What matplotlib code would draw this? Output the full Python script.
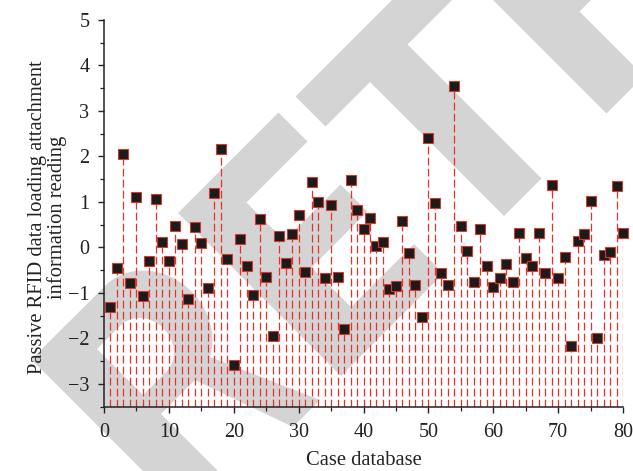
import numpy as np
import matplotlib
matplotlib.use("Agg")
import matplotlib.pyplot as plt
from matplotlib.patches import Polygon

# ---- data ----
case_ids = list(range(1, 81))
readings = [-1.31, -0.46, 2.05, -0.78, 1.12, -1.07, -0.29, 1.07, 0.11, -0.30,
            0.47, 0.07, -1.13, 0.44, 0.10, -0.89, 1.20, 2.16, -0.26, -2.59,
            0.19, -0.40, -1.05, 0.63, -0.65, -1.94, 0.25, -0.34, 0.30, 0.71,
            -0.53, 1.44, 1.00, -0.68, 0.93, -0.66, -1.80, 1.49, 0.82, 0.41,
            0.65, 0.04, 0.12, -0.92, -0.85, 0.58, -0.13, -0.82, -1.52, 2.41,
            0.97, -0.56, -0.82, 3.55, 0.48, -0.07, -0.75, 0.40, -0.40, -0.87,
            -0.68, -0.37, -0.76, 0.32, -0.23, -0.40, 0.32, -0.56, 1.38, -0.67,
            -0.20, -2.17, 0.15, 0.30, 1.03, -2.00, -0.16, -0.09, 1.35, 0.32]
x_ticks = [0, 10, 20, 30, 40, 50, 60, 70, 80]
y_ticks = [-3, -2, -1, 0, 1, 2, 3, 4, 5]
x_label = "Case database"
y_label = "Passive RFID data loading attachment\ninformation reading"

plt.rcParams['font.family'] = ['Liberation Serif', 'DejaVu Serif']

W, H = 633, 471
fig = plt.figure(figsize=(W / 100, H / 100), dpi=100)

# ---- watermark layer (pixel coordinates) ----
wm = fig.add_axes([0, 0, 1, 1], zorder=0)
wm.set_xlim(0, W)
wm.set_ylim(H, 0)
wm.axis('off')
GRAY = '#d4d4d4'


def pq(points):
    return [((p + q) / 2.0, (q - p) / 2.0) for p, q in points]


def add_poly(points, color=GRAY):
    wm.add_patch(Polygon(pq(points), closed=True, facecolor=color,
                         edgecolor='none'))


# E
add_poly([(-35, 391), (166, 391), (166, 449), (44, 449), (44, 525), (156, 525),
          (156, 579), (44, 579), (44, 658), (170, 658), (170, 717), (-35, 717)])
# T
add_poly([(199, 392), (452, 392), (452, 452), (363, 452), (363, 720),
          (288, 720), (288, 452), (199, 452)])
# R (top right)
add_poly([(493, 391), (800, 391), (800, 591), (568, 591), (568, 720), (493, 720)])


# R (bottom left): spine + bowl + hole + leg
def d_shape(p0, pstraight, rp, q0, q1, n=60):
    qc = (q0 + q1) / 2.0
    rq = (q1 - q0) / 2.0
    pts = [(p0, q0)]
    for t in np.linspace(-np.pi / 2, np.pi / 2, n):
        pts.append((pstraight + rp * np.cos(t), qc + rq * np.sin(t)))
    pts.append((p0, q1))
    return pts


add_poly([(-328, 391), (-253, 391), (-253, 820), (-328, 820)])
add_poly(d_shape(-300, -180, 80, 391, 575))
add_poly(d_shape(-252, -205, 40, 446, 538), color='white')
add_poly([(-150, 560), (-80, 720), (-134, 720), (-185, 575)])

# ---- main axes ----
ax = fig.add_axes([104 / W, 1 - 406.7 / H, (623 - 104) / W, (406.7 - 20) / H],
                  zorder=1)
ax.set_facecolor('none')

ax.vlines(case_ids, -3.5, readings, colors='#e8302a', linewidth=0.9,
          linestyles=(0, (6.2, 2.6)), zorder=2)
ax.plot(case_ids, readings, linestyle='none', marker='s', markersize=6.5,
        markerfacecolor='#1b1b1b', markeredgecolor='#d23a30',
        markeredgewidth=0.8, zorder=3, clip_on=False)

ax.set_xlim(0, 80)
ax.set_ylim(-3.5, 5)
ax.set_xticks(x_ticks)
ax.set_yticks(y_ticks)
ax.set_xticks(np.arange(5, 80, 10), minor=True)
ax.set_yticks(np.arange(-3.5, 5.0, 1.0), minor=True)
ax.set_yticklabels(['\u2212' + str(abs(v)) if v < 0 else str(v) for v in y_ticks])
for s in ['top', 'right']:
    ax.spines[s].set_visible(False)
for s in ['left', 'bottom']:
    ax.spines[s].set_linewidth(1.1)
    ax.spines[s].set_color('#222222')
ax.tick_params(which='major', direction='out', length=4.5, width=1.0,
               labelsize=14.5, colors='#222222')
ax.tick_params(axis='x', which='major', pad=7.5)
ax.tick_params(axis='y', which='major', pad=6)
ax.tick_params(which='minor', direction='out', length=3, width=0.9,
               colors='#222222')
ax.set_xlabel(x_label, fontsize=14.8, color='#222222', va='center')
ax.xaxis.set_label_coords(0.5, -0.138)
ax.set_ylabel(y_label, fontsize=14.8, color='#222222', linespacing=1.0,
              va='center', ha='center')
ax.yaxis.set_label_coords(-0.108, 0.49)

fig.savefig('out.png', dpi=100)
